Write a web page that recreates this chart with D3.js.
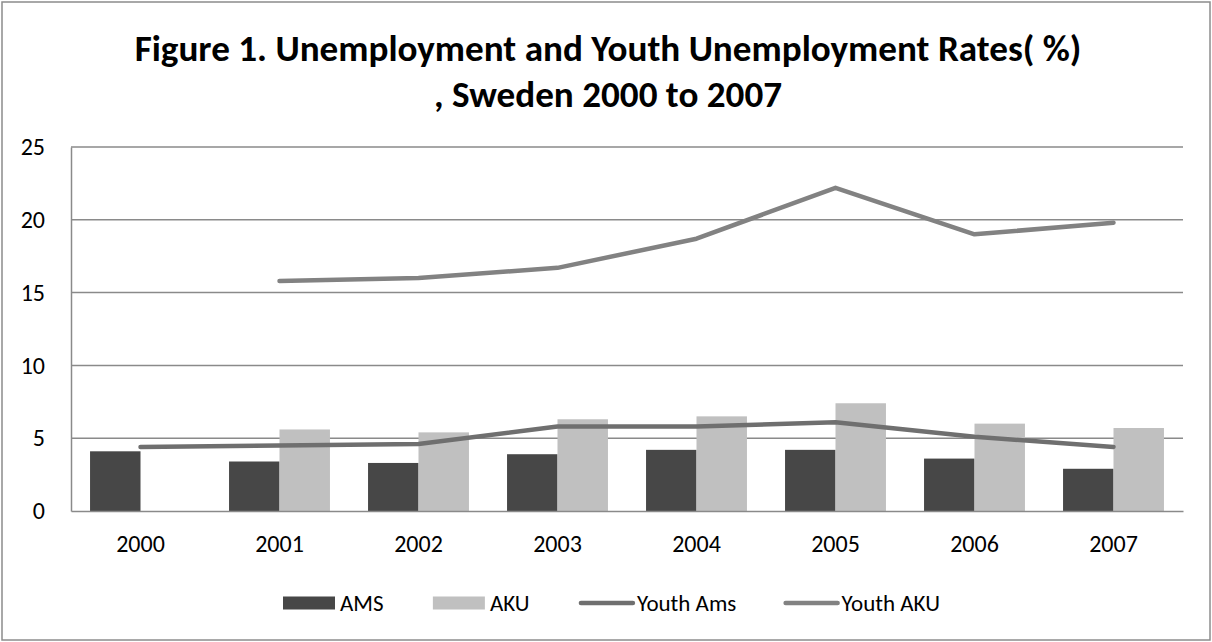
<!DOCTYPE html>
<html>
<head>
<meta charset="utf-8">
<script src="https://cdn.jsdelivr.net/npm/d3@7/dist/d3.min.js"></script>
<style>
  html, body { margin: 0; padding: 0; background: #fff; }
  svg { display: block; font-family: Carlito, Calibri, Lato, sans-serif; }
</style>
</head>
<body>
<div id="chart"></div>
<script>
(function() {
  'use strict';
  var WIDTH = 1212;
  var HEIGHT = 642;
  var FONT = 'Carlito, Calibri, Lato, sans-serif';

  // data
  var years = ['2000', '2001', '2002', '2003', '2004', '2005', '2006', '2007'];
  var ams = [4.1, 3.4, 3.3, 3.9, 4.2, 4.2, 3.6, 2.9];
  var aku = [null, 5.6, 5.4, 6.3, 6.5, 7.4, 6.0, 5.7];
  var youthAms = [4.4, 4.5, 4.6, 5.8, 5.8, 6.1, 5.1, 4.4];
  var youthAku = [null, 15.8, 16.0, 16.7, 18.7, 22.2, 19.0, 19.8];
  var yTicks = [0, 5, 10, 15, 20, 25];
  var titleLines = ['Figure 1. Unemployment and Youth Unemployment Rates( %)', ', Sweden 2000 to 2007'];

  var bars = [
    {name: 'AMS', values: ams, color: '#474747'},
    {name: 'AKU', values: aku, color: '#c0c0c0'}
  ];
  var lines = [
    {name: 'Youth Ams', values: youthAms, color: '#6f6f6f'},
    {name: 'Youth AKU', values: youthAku, color: '#828282'}
  ];

  var margin = {top: 147, right: 29, bottom: 131, left: 71};
  var width = WIDTH - margin.left - margin.right;
  var height = HEIGHT - margin.top - margin.bottom;

  var svg = d3.select('#chart').append('svg')
    .attr('width', WIDTH)
    .attr('height', HEIGHT);

  // outer border
  svg.append('rect')
    .attr('x', 2).attr('y', 2)
    .attr('width', WIDTH - 4).attr('height', HEIGHT - 4)
    .attr('fill', '#fff')
    .attr('stroke', '#8c8c8c')
    .attr('stroke-width', 1.5);

  var title = svg.append('text')
    .attr('text-anchor', 'middle')
    .attr('font-weight', 'bold')
    .attr('font-size', 33)
    .attr('fill', '#000');
  var tspans = title.selectAll('tspan').data(titleLines).enter().append('tspan')
    .attr('x', 608)
    .attr('y', function(d, i) { return 61 + i * 46; })
    .text(function(d) { return d; });
  // scale the title so the first line spans about the same width as the original
  var firstLen = tspans.nodes()[0].getComputedTextLength();
  title.attr('font-size', 33 * 947 / firstLen);

  var g = svg.append('g')
    .attr('transform', 'translate(' + margin.left + ',' + margin.top + ')');

  var x = d3.scaleBand().domain(years).range([0, width]).padding(0);
  var pad = x.bandwidth() * 0.137;
  var x1 = d3.scaleBand().domain(bars.map(function(b) { return b.name; }))
    .range([pad, x.bandwidth() - pad]);
  var y = d3.scaleLinear().domain([0, 25]).range([height, 0]);

  // gridlines
  g.append('g')
    .selectAll('line').data(yTicks.slice(1)).enter().append('line')
    .attr('x1', 0).attr('x2', width)
    .attr('y1', function(d) { return y(d); })
    .attr('y2', function(d) { return y(d); })
    .attr('stroke', '#8a8a8a')
    .attr('stroke-width', 1.5);

  // bars
  bars.forEach(function(b) {
    g.append('g').selectAll('rect')
      .data(b.values.map(function(v, i) { return {year: years[i], v: v}; })
        .filter(function(d) { return d.v !== null; }))
      .enter().append('rect')
      .attr('x', function(d) { return x(d.year) + x1(b.name); })
      .attr('y', function(d) { return y(d.v); })
      .attr('width', x1.bandwidth())
      .attr('height', function(d) { return height - y(d.v); })
      .attr('fill', b.color);
  });

  // axes
  var yAxis = g.append('g')
    .call(d3.axisLeft(y).tickValues(yTicks).tickSize(0).tickPadding(26));
  yAxis.select('.domain').attr('stroke', '#8a8a8a').attr('stroke-width', 1.5);
  yAxis.selectAll('text').attr('font-size', 24).attr('fill', '#000')
    .attr('font-family', FONT);

  var xAxis = g.append('g')
    .attr('transform', 'translate(0,' + height + ')')
    .call(d3.axisBottom(x).tickSize(0).tickPadding(24));
  xAxis.select('.domain').attr('stroke', '#8a8a8a').attr('stroke-width', 1.5);
  xAxis.selectAll('text').attr('font-size', 24).attr('fill', '#000')
    .attr('font-family', FONT);

  // lines
  var lineGen = d3.line()
    .defined(function(d) { return d.v !== null; })
    .x(function(d) { return x(d.year) + x.bandwidth() / 2; })
    .y(function(d) { return y(d.v); });

  lines.forEach(function(l) {
    g.append('path')
      .datum(l.values.map(function(v, i) { return {year: years[i], v: v}; }))
      .attr('d', lineGen)
      .attr('fill', 'none')
      .attr('stroke', l.color)
      .attr('stroke-width', 4.5)
      .attr('stroke-linecap', 'round')
      .attr('stroke-linejoin', 'round');
  });

  // legend
  var legendItems = bars.map(function(b) { return {name: b.name, color: b.color, type: 'bar'}; })
    .concat(lines.map(function(l) { return {name: l.name, color: l.color, type: 'line'}; }));
  var legend = svg.append('g').attr('transform', 'translate(0,603)');
  var items = legend.selectAll('g').data(legendItems).enter().append('g');
  items.each(function(d) {
    var it = d3.select(this);
    if (d.type === 'bar') {
      it.append('rect').attr('x', 0).attr('y', -6.5).attr('width', 52).attr('height', 13)
        .attr('fill', d.color);
    } else {
      it.append('line').attr('x1', 2).attr('x2', 54).attr('y1', 0).attr('y2', 0)
        .attr('stroke', d.color).attr('stroke-width', 4.5).attr('stroke-linecap', 'round');
    }
    it.append('text')
      .attr('x', d.type === 'bar' ? 57 : 58)
      .attr('dy', '0.35em')
      .attr('font-size', 23)
      .attr('fill', '#000')
      .text(d.name);
  });
  var widths = [];
  items.each(function() { widths.push(this.getBBox().width); });
  var legendSpan = 655;
  var gap = (legendSpan - d3.sum(widths)) / (widths.length - 1);
  var pos = 283;
  var offsets = widths.map(function(w) { var p = pos; pos += w + gap; return p; });
  items.attr('transform', function(d, i) { return 'translate(' + offsets[i] + ',0)'; });
})();
</script>
</body>
</html>
